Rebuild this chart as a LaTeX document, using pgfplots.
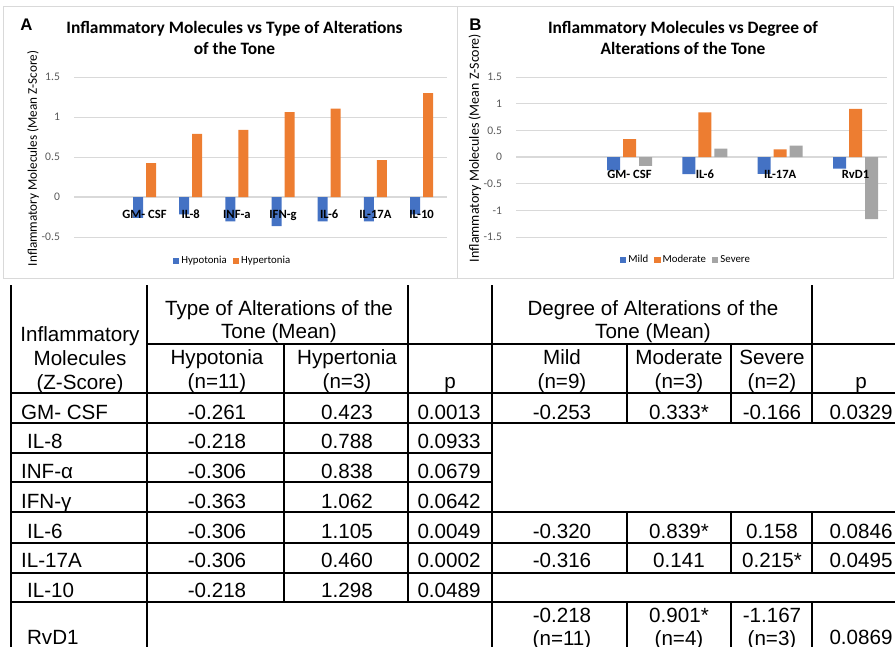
\documentclass[border=0pt]{standalone}
\usepackage{pgfplots}
\pgfplotsset{compat=1.18}
\usepackage{fontspec}
\setmainfont{Liberation Sans}
\newfontfamily\calib{Carlito}
\definecolor{xblue}{HTML}{4472C4}
\definecolor{xorange}{HTML}{ED7D31}
\definecolor{xgray}{HTML}{A5A5A5}
\definecolor{gridc}{HTML}{D9D9D9}
\definecolor{ticktxt}{HTML}{595959}
\newcommand\fs[2]{\fontsize{#1}{#2}\selectfont}
\pgfplotsset{
  layers/mylayers/.define layer set={axis background,axis grid,axis ticks,axis lines,pre main,main,axis tick labels,axis descriptions,axis foreground}{
    grid style={/pgfplots/on layer=axis grid},
    tick style={/pgfplots/on layer=axis ticks},
    axis line style={/pgfplots/on layer=axis lines},
    label style={/pgfplots/on layer=axis descriptions},
    legend style={/pgfplots/on layer=axis descriptions},
    title style={/pgfplots/on layer=axis descriptions},
    ticklabel style={/pgfplots/on layer=axis tick labels},
  },
  xl/.style={
    set layers=mylayers,
    scale only axis, anchor=south west, clip=false,
    axis x line*=middle, axis y line*=left,
    hide obscured x ticks=false, hide obscured y ticks=false,
    y axis line style={draw=none},
    x axis line style={draw=gridc, line width=0.6pt},
    major tick length=0pt,
    ymajorgrids, grid style={draw=gridc, line width=0.5pt},
    ybar,
    /pgf/number format/assume math mode=true,
    yticklabel style={font=\calib\fs{5.8}{7}, text=ticktxt, xshift=-3.5pt},
    xticklabel style={font=\calib\bfseries\fs{6.3}{7.5}, yshift=-3pt},
    legend style={draw=none, fill=none, legend columns=-1, anchor=center,
      font=\calib\fs{5.4}{6.5}, inner sep=0pt,
      nodes={inner sep=1pt},
      /tikz/every even column/.append style={column sep=2pt}},
  },
  sq/.style={legend image code/.code={\fill[##1] (0pt,-1.6pt) rectangle (3.2pt,1.6pt);}},
}
\newcommand\TC[3]{\node[anchor=base,inner sep=0pt] at (#1,#2) {#3};}
\newcommand\TL[3]{\node[anchor=base west,inner sep=0pt] at (#1,#2) {#3};}
\begin{document}
\begin{tikzpicture}
\begin{scope}
\clip (0pt,0pt) rectangle (447.5pt,-323.5pt);
\begin{scope}[x=0.5pt,y=-0.5pt]
% panel frames
\draw[gridc, line width=0.5pt] (3,7) rectangle (457,278);
\draw[gridc, line width=0.5pt] (457,7) rectangle (893,278);
% panel letters
\node[anchor=base west, inner sep=0pt, font=\bfseries\fs{8.4}{9}] at (20,31) {A};
\node[anchor=base west, inner sep=0pt, font=\bfseries\fs{8.4}{9}] at (469,31) {B};
% titles
\begin{scope}[font=\calib\bfseries\fs{8.7}{10}]
\TC{234.5}{34}{Inflammatory Molecules vs Type of Alterations}
\TC{234.5}{55}{of the Tone}
\TC{683}{34}{Inflammatory Molecules vs Degree of}
\TC{683}{54.5}{Alterations of the Tone}
\end{scope}
% y labels
\node[rotate=90, font=\calib\fs{6.6}{8}, inner sep=0pt] at (33,158.5) {Inflammatory Molecules (Mean Z-Score)};
\node[rotate=90, font=\calib\fs{7}{8}, inner sep=0pt] at (475,148) {Inflammatory Molecules (Mean Z-Score)};
% table lines
\begin{scope}[line width=0.9pt]
\draw (11,285) -- (11,660);
\draw (147,285) -- (147,660);
\draw (284,344) -- (284,602);
\draw (408,285) -- (408,602);
\draw (492,285) -- (492,660);
\foreach \xx in {627,731} {\draw (\xx,344) -- (\xx,423); \draw (\xx,512) -- (\xx,573); \draw (\xx,602) -- (\xx,660);}
\draw (812,285) -- (812,423); \draw (812,512) -- (812,573); \draw (812,602) -- (812,660);
\draw (147,344) -- (900,344);
\foreach \yy in {393,423,512,543,573,602} {\draw (11,\yy) -- (900,\yy);}
\foreach \yy in {453,482} {\draw (11,\yy) -- (492,\yy);}
\end{scope}
% table text
\begin{scope}[font=\fs{10.3}{12}]
\TC{80}{341}{Inflammatory}
\TC{80}{365}{Molecules}
\TC{80}{389}{(Z-Score)}
\TC{279}{315}{Type of Alterations of the}
\TC{279}{338}{Tone (Mean)}
\TC{217}{364}{Hypotonia}\TC{217}{388}{(n=11)}
\TC{347}{364}{Hypertonia}\TC{347}{388}{(n=3)}
\TC{450}{388}{p}
\TC{653}{315}{Degree of Alterations of the}
\TC{653}{338}{Tone (Mean)}
\TC{562}{364}{Mild}\TC{562}{388}{(n=9)}
\TC{679}{364}{Moderate}\TC{679}{388}{(n=3)}
\TC{772}{364}{Severe}\TC{772}{388}{(n=2)}
\TC{861}{388}{p}
% rows
\TL{20.7}{419}{GM- CSF}\TC{217}{419}{-0.261}\TC{347}{419}{0.423}\TC{449}{419}{0.0013}
\TC{562}{419}{-0.253}\TC{679}{419}{0.333*}\TC{772}{419}{-0.166}\TC{861}{419}{0.0329}
\TL{26.7}{448}{IL-8}\TC{217}{448}{-0.218}\TC{347}{448}{0.788}\TC{449}{448}{0.0933}
\TL{20.7}{478}{INF-α}\TC{217}{478}{-0.306}\TC{347}{478}{0.838}\TC{449}{478}{0.0679}
\TL{20.7}{508}{IFN-γ}\TC{217}{508}{-0.363}\TC{347}{508}{1.062}\TC{449}{508}{0.0642}
\TL{26.7}{538}{IL-6}\TC{217}{538}{-0.306}\TC{347}{538}{1.105}\TC{449}{538}{0.0049}
\TC{562}{538}{-0.320}\TC{679}{538}{0.839*}\TC{772}{538}{0.158}\TC{861}{538}{0.0846}
\TL{20.7}{567}{IL-17A}\TC{217}{567}{-0.306}\TC{347}{567}{0.460}\TC{449}{567}{0.0002}
\TC{562}{567}{-0.316}\TC{679}{567}{0.141}\TC{772}{567}{0.215*}\TC{861}{567}{0.0495}
\TL{26.7}{597}{IL-10}\TC{217}{597}{-0.218}\TC{347}{597}{1.298}\TC{449}{597}{0.0489}
\TL{26.7}{644}{RvD1}
\TC{562}{622}{-0.218}\TC{562}{645}{(n=11)}
\TC{679}{622}{0.901*}\TC{679}{645}{(n=4)}
\TC{772}{622}{-1.167}\TC{772}{645}{(n=3)}
\TC{861}{644}{0.0869}
\end{scope}
\end{scope}
\end{scope}
% Chart A
\begin{axis}[xl, at={(37pt,-118.5pt)}, width=186.5pt, height=80pt,
  xmin=-1.527, xmax=6.552, ymin=-0.5, ymax=1.5,
  ytick={-0.5,0,0.5,1,1.5}, xtick={0,1,2,3,4,5,6},
  xticklabels={GM- CSF, IL-8, INF-a, IFN-g, IL-6, IL-17A, IL-10},
  bar width=5pt, legend style={at={(0.425,-0.15)}}]
\addplot[fill=xblue, draw=none, bar shift=-3.25pt, sq] coordinates {(0,-0.261) (1,-0.218) (2,-0.306) (3,-0.363) (4,-0.306) (5,-0.306) (6,-0.218)};
\addplot[fill=xorange, draw=none, bar shift=3.25pt, sq] coordinates {(0,0.423) (1,0.788) (2,0.838) (3,1.062) (4,1.105) (5,0.460) (6,1.298)};
\legend{Hypotonia, Hypertonia}
\end{axis}
% Chart B
\begin{axis}[xl, at={(258pt,-118.5pt)}, width=185.5pt, height=80pt,
  xmin=-1.507, xmax=3.418, ymin=-1.5, ymax=1.5,
  ytick={-1.5,-1,-0.5,0,0.5,1,1.5}, xtick={0,1,2,3},
  xticklabels={GM- CSF, IL-6, IL-17A, RvD1},
  bar width=6.5pt, legend style={at={(0.458,-0.144)}}]
\addplot[fill=xblue, draw=none, bar shift=-8pt, sq] coordinates {(0,-0.253) (1,-0.320) (2,-0.316) (3,-0.218)};
\addplot[fill=xorange, draw=none, bar shift=0pt, sq] coordinates {(0,0.333) (1,0.839) (2,0.141) (3,0.901)};
\addplot[fill=xgray, draw=none, bar shift=8pt, sq] coordinates {(0,-0.166) (1,0.158) (2,0.215) (3,-1.167)};
\legend{Mild, Moderate, Severe}
\end{axis}
\pgfresetboundingbox
\path[use as bounding box] (0pt,0pt) rectangle (447.5pt,-323.5pt);
\end{tikzpicture}
\end{document}
